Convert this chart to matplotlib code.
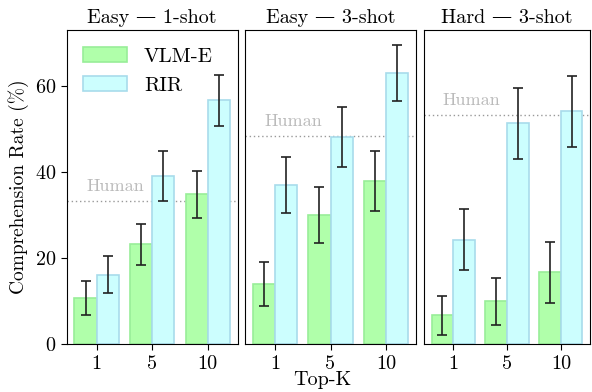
import matplotlib
matplotlib.use("Agg")
import matplotlib.pyplot as plt
import numpy as np

plt.rcParams['font.family'] = ['cmr10', 'DejaVu Serif']
plt.rcParams['mathtext.fontset'] = 'cm'
plt.rcParams['axes.formatter.use_mathtext'] = True

topk = ["1", "5", "10"]
titles = ["Easy \u2014 1-shot", "Easy \u2014 3-shot", "Hard \u2014 3-shot"]
vlm_e = [[10.8, 23.2, 34.8], [14.0, 30.0, 38.0], [6.7, 10.0, 16.7]]
vlm_e_err = [[3.9, 4.7, 5.4], [5.0, 6.5, 7.0], [4.6, 5.5, 7.0]]
rir = [[16.2, 39.1, 56.7], [37.1, 48.1, 63.0], [24.3, 51.3, 54.1]]
rir_err = [[4.3, 5.8, 5.9], [6.5, 7.0, 6.6], [7.1, 8.3, 8.3]]
human = [33.3, 48.4, 53.3]

fig = plt.figure(figsize=(5.92, 3.92), dpi=100)
W, H = 592, 392
lefts = [66.7, 245, 424]
rights = [237.7, 416, 590]
top, bottom = 30, 344.3
axes = []
for i in range(3):
    ax = fig.add_axes([lefts[i] / W, 1 - bottom / H, (rights[i] - lefts[i]) / W, (bottom - top) / H],
                      sharey=axes[0] if axes else None)
    axes.append(ax)

x = np.arange(len(topk))
w = 0.4
for i, ax in enumerate(axes):
    ax.bar(x - w / 2, vlm_e[i], w, color='#b0ffaa', edgecolor='#98ee98', linewidth=1.2,
           yerr=vlm_e_err[i], capsize=3.6, error_kw=dict(ecolor='#222222', elinewidth=1.2, capthick=1.2),
           label='VLM-E', zorder=2)
    ax.bar(x + w / 2, rir[i], w, color='#ccfefe', edgecolor='#a8dceb', linewidth=1.2,
           yerr=rir_err[i], capsize=3.6, error_kw=dict(ecolor='#222222', elinewidth=1.2, capthick=1.2),
           label='RIR', zorder=2)
    ax.axhline(human[i], color='#999999', linestyle=(0, (1, 2)), linewidth=1.0, zorder=1)
    ax.text(-0.19, human[i] + 1.6, 'Human', color='#bbbbbb', fontsize=13, va='bottom', ha='left')
    ax.set_xticks(x)
    ax.set_xticklabels(topk)
    ax.set_title(titles[i], fontsize=14.5, pad=5)
    ax.set_ylim(0, 73)
    ax.tick_params(axis='both', labelsize=14.5, length=4)
    if i > 0:
        ax.tick_params(axis='y', left=False, labelleft=False)

axes[0].set_yticks([0, 20, 40, 60])
axes[0].set_ylabel('Comprehension Rate (%)', fontsize=14, labelpad=4)
axes[0].legend(loc='upper left', frameon=False, fontsize=15, handlelength=2.1, handleheight=0.75,
               labelspacing=0.5, borderaxespad=0.4)
fig.text(322 / W, 1 - 380 / H, 'Top-K', ha='center', va='center', fontsize=14.5)

fig.savefig('out.png', dpi=100)
